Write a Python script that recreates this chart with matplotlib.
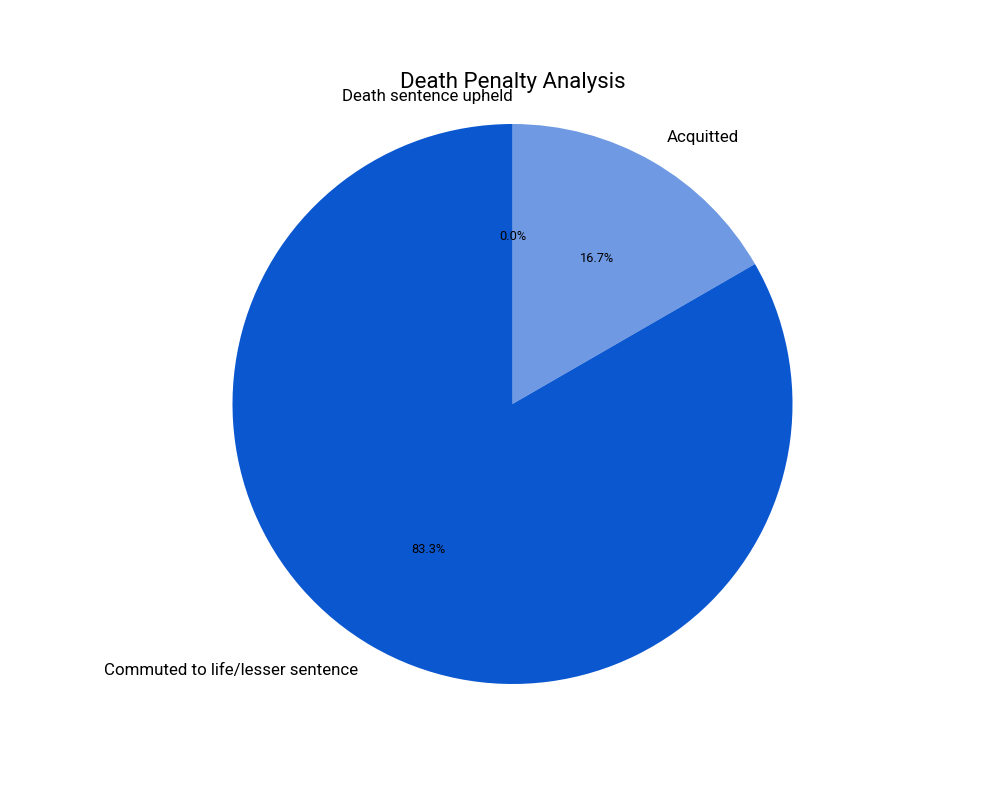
import matplotlib
matplotlib.use("Agg")
import matplotlib.pyplot as plt

plt.rcParams["font.family"] = ["Roboto", "DejaVu Sans"]

outcomes = ["Death sentence upheld", "Acquitted", "Commuted to life/lesser sentence"]
counts = [0, 1, 5]
colors = ["#041e49", "#6f9ae3", "#0b57d0"]

fig, ax = plt.subplots(figsize=(10, 8), dpi=100)
wedges, texts, autotexts = ax.pie(counts, labels=outcomes, colors=colors,
                                  autopct="%1.1f%%", startangle=90,
                                  counterclock=False,
                                  textprops={"fontsize": 12.2})
for t in autotexts:
    t.set_fontsize(9.2)
# zero-size slice sits on the vertical; push its label to the left like the original
texts[0].set_horizontalalignment("right")
ax.set_xlim(-1.1, 1.1)
ax.set_ylim(-1.1, 1.1)
ax.set_title("Death Penalty Analysis", fontsize=16)
fig.savefig("out.png", dpi=100)
